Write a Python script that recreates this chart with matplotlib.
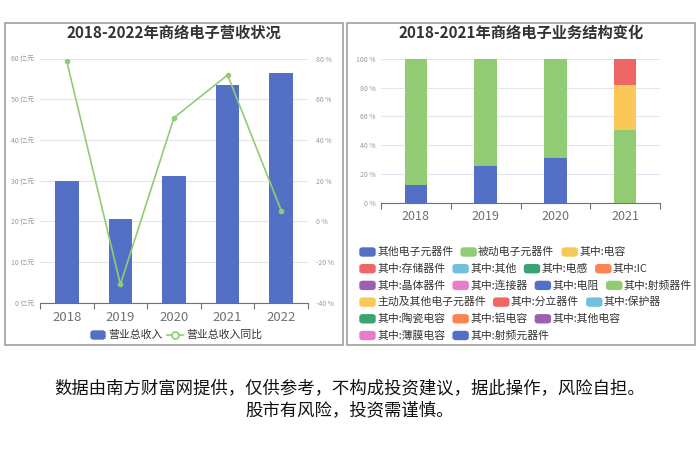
import matplotlib
matplotlib.use("Agg")
import matplotlib.pyplot as plt
from matplotlib.patches import Rectangle, FancyBboxPatch
from matplotlib.lines import Line2D
import numpy as np

plt.rcParams['font.family'] = ['Noto Sans CJK SC', 'DejaVu Sans']

# revenue chart data
rev_years = ['2018', '2019', '2020', '2021', '2022']
revenue = [30.0, 20.6, 31.2, 53.6, 56.5]          # 亿元
revenue_yoy = [78.6, -31.0, 50.9, 71.9, 5.3]      # %

# structure chart data
struct_years = ['2018', '2019', '2020', '2021']
other_parts = [12.3, 25.7, 31.3, 0]
passive_parts = [87.7, 74.3, 68.7, 50.6]
capacitor = [0, 0, 0, 31.4]
storage = [0, 0, 0, 18.0]

legend_rows = [
    ['其他电子元器件', '被动电子元器件', '其中:电容'],
    ['其中:存储器件', '其中:其他', '其中:电感', '其中:IC'],
    ['其中:晶体器件', '其中:连接器', '其中:电阻', '其中:射频器件'],
    ['主动及其他电子元器件', '其中:分立器件', '其中:保护器'],
    ['其中:陶瓷电容', '其中:铝电容', '其中:其他电容'],
    ['其中:薄膜电容', '其中:射频元器件'],
]
palette = ['#5470c6', '#91cc75', '#fac858', '#ee6666', '#73c0de',
           '#3ba272', '#fc8452', '#9a60b4', '#ea7ccc']

W, H = 700, 467
fig = plt.figure(figsize=(7, 4.67), dpi=100)


def fx(x):
    return x / W


def fy(y):
    return 1 - y / H


# panel frames
for x0, x1 in [(5, 343), (347, 695)]:
    fig.add_artist(Rectangle((fx(x0), fy(345)), fx(x1) - fx(x0), fy(23) - fy(345),
                             transform=fig.transFigure, fill=False,
                             edgecolor='#a0a0a0', linewidth=1.2))

grid_c = '#e0e6f1'
tick_c = '#999999'
axis_c = '#6e7079'

# ---------- left chart ----------
ax = fig.add_axes([fx(40), fy(302.7), fx(308) - fx(40), fy(58.5) - fy(302.7)])
xs = np.arange(len(rev_years))
ax.bar(xs, revenue, width=0.44, color='#5470c6', zorder=3)
ax.set_xlim(-0.5, len(rev_years) - 0.5)
ax.set_ylim(0, 60)
ax.set_yticks(np.arange(0, 61, 10))
ax.set_yticklabels([f'{v} 亿元' for v in range(0, 61, 10)], fontsize=5, color=tick_c)
ax.yaxis.grid(True, color=grid_c, linewidth=0.8)
ax.set_axisbelow(True)
ax.set_xticks(xs)
ax.set_xticklabels(rev_years, fontsize=9.5, color=axis_c)
ax.set_xticks(np.arange(-0.5, len(rev_years)), minor=True)
ax.tick_params(axis='x', which='major', length=0, pad=6)
ax.tick_params(axis='x', which='minor', length=4, color=axis_c, width=0.8)
ax.tick_params(axis='y', length=0, pad=4)
for s in ['top', 'right', 'left']:
    ax.spines[s].set_visible(False)
ax.spines['bottom'].set_color(axis_c)
ax.spines['bottom'].set_linewidth(0.8)

ax2 = ax.twinx()
ax2.plot(xs, revenue_yoy, color='#91cc75', linewidth=1.2, marker='o',
         markersize=3, zorder=5)
ax2.set_ylim(-40, 80)
ax2.set_yticks(np.arange(-40, 81, 20))
ax2.set_yticklabels([f'{v} %' for v in range(-40, 81, 20)], fontsize=5, color=tick_c)
ax2.tick_params(axis='y', length=0, pad=6)
for s in ['top', 'right', 'left', 'bottom']:
    ax2.spines[s].set_visible(False)

fig.text(fx(174), fy(33), '2018-2022年商络电子营收状况', ha='center', va='center',
         fontsize=11, fontweight='bold', color='#333333')

# left legend
fig.add_artist(FancyBboxPatch((fx(91), fy(339)), fx(14), fy(331) - fy(339),
                              boxstyle='round,pad=0,rounding_size=0.004',
                              transform=fig.transFigure, color='#5470c6'))
fig.text(fx(108), fy(335), '营业总收入', fontsize=7.8, va='center', color='#333333')
fig.add_artist(Line2D([fx(167), fx(183)], [fy(335), fy(335)], transform=fig.transFigure,
                      color='#91cc75', linewidth=1.2))
fig.add_artist(Line2D([fx(175)], [fy(335)], transform=fig.transFigure, marker='o',
                      markersize=5, markerfacecolor='white', markeredgecolor='#91cc75',
                      markeredgewidth=1.2))
fig.text(fx(186), fy(335), '营业总收入同比', fontsize=7.8, va='center', color='#333333')

# ---------- right chart ----------
bx = fig.add_axes([fx(381), fy(202.7), fx(660) - fx(381), fy(59) - fy(202.7)])
xs2 = np.arange(len(struct_years))
bottom = np.zeros(len(struct_years))
for vals, col in [(other_parts, palette[0]), (passive_parts, palette[1]),
                  (capacitor, palette[2]), (storage, palette[3])]:
    bx.bar(xs2, vals, bottom=bottom, width=0.32, color=col, zorder=3)
    bottom += np.array(vals)
bx.set_xlim(-0.5, len(struct_years) - 0.5)
bx.set_ylim(0, 100)
bx.set_yticks(np.arange(0, 101, 20))
bx.set_yticklabels([f'{v} %' for v in range(0, 101, 20)], fontsize=5, color=tick_c)
bx.yaxis.grid(True, color=grid_c, linewidth=0.8)
bx.set_axisbelow(True)
bx.set_xticks(xs2)
bx.set_xticklabels(struct_years, fontsize=9, color=axis_c)
bx.set_xticks(np.arange(-0.5, len(struct_years)), minor=True)
bx.tick_params(axis='x', which='major', length=0, pad=5)
bx.tick_params(axis='x', which='minor', length=4, color=axis_c, width=0.8)
bx.tick_params(axis='y', length=0, pad=4)
for s in ['top', 'right', 'left']:
    bx.spines[s].set_visible(False)
bx.spines['bottom'].set_color(axis_c)
bx.spines['bottom'].set_linewidth(0.8)

fig.text(fx(521), fy(33), '2018-2021年商络电子业务结构变化', ha='center', va='center',
         fontsize=11, fontweight='bold', color='#333333')

# right legend (flow layout)
renderer = fig.canvas.get_renderer()
k = 0
for r, row in enumerate(legend_rows):
    y = 252 + r * 16.7
    x = 360
    for name in row:
        col = palette[k % len(palette)]
        fig.add_artist(FancyBboxPatch((fx(x), fy(y + 4)), fx(15), fy(y - 4) - fy(y + 4),
                                      boxstyle='round,pad=0,rounding_size=0.004',
                                      transform=fig.transFigure, color=col))
        t = fig.text(fx(x + 17), fy(y), name, fontsize=7.8, va='center', color='#333333')
        w = t.get_window_extent(renderer).width
        x = x + 17 + w + 8
        k += 1

# footer
fig.text(0.5, fy(388), '数据由南方财富网提供，仅供参考，不构成投资建议，据此操作，风险自担。',
         ha='center', va='center', fontsize=12.5, color='#111111')
fig.text(0.5, fy(410), '股市有风险，投资需谨慎。', ha='center', va='center',
         fontsize=12.5, color='#111111')

fig.savefig('out.png', dpi=100)
